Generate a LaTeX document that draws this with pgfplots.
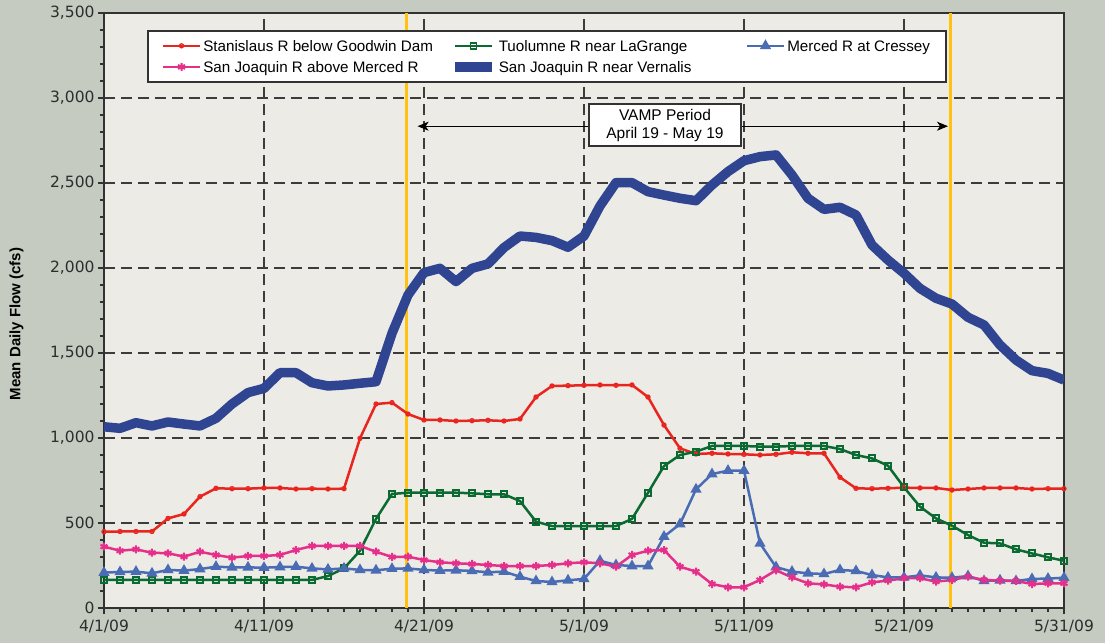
\documentclass[border=0pt]{standalone}
\usepackage{fontspec}
\setmainfont{Liberation Sans}
\newfontfamily\tickfont{DejaVu Sans}
\usepackage{pgfplots}
\usepackage{pgfplotstable}
\pgfplotsset{compat=1.18}
\usetikzlibrary{arrows.meta}

\definecolor{outerbg}{RGB}{197,203,192}
\definecolor{plotbg}{RGB}{237,235,229}
\definecolor{axisgray}{RGB}{50,50,50}
\definecolor{gridgray}{RGB}{60,60,60}
\definecolor{labelgray}{RGB}{45,45,45}
\definecolor{stancol}{RGB}{232,37,30}
\definecolor{tuolcol}{RGB}{10,106,50}
\definecolor{merccol}{RGB}{74,108,180}
\definecolor{sjmcol}{RGB}{230,46,139}
\definecolor{verncol}{RGB}{47,69,146}
\definecolor{vampgold}{RGB}{255,194,14}

% day index 0 = 4/1/09 ... 60 = 5/31/09
\pgfplotstableread{
day stan tuol merc sjm vern
0  449  165 208 361 1066
1  450  165 212 337 1057
2  450  165 214 345 1090
3  450  165 204 325 1071
4  527  165 224 322 1094
5  553  165 220 302 1082
6  655  165 229 331 1071
7  704  165 243 312 1116
8  702  165 239 296 1200
9  702  165 239 306 1267
10 706  165 237 306 1292
11 706  165 241 312 1384
12 700  165 243 341 1384
13 702  165 233 365 1325
14 700  188 227 365 1306
15 702  233 233 365 1312
16 998  337 224 365 1322
17 1200 524 222 331 1331
18 1208 671 231 300 1616
19 1141 678 233 302 1841
20 1106 678 224 282 1973
21 1106 678 220 269 1998
22 1100 678 222 263 1920
23 1102 675 218 259 1998
24 1104 669 210 253 2024
25 1100 669 214 247 2120
26 1112 629 184 247 2188
27 1241 508 159 247 2180
28 1306 482 153 253 2161
29 1308 482 163 263 2122
30 1310 482 171 269 2188
31 1312 482 278 263 2365
32 1310 482 253 243 2502
33 1312 524 247 312 2502
34 1241 678 247 337 2449
35 1076 835 420 341 2429
36 939  900 494 243 2410
37 906  920 698 214 2396
38 910  953 788 141 2488
39 906  953 808 122 2567
40 904  953 808 122 2631
41 900  949 380 165 2655
42 904  949 241 222 2665
43 916  953 214 180 2547
44 910  953 204 145 2410
45 910  953 200 139 2345
46 769  935 224 125 2357
47 704  900 218 122 2312
48 702  880 194 151 2135
49 704  837 180 161 2047
50 708  710 180 175 1969
51 706  596 192 175 1880
52 706  527 180 155 1822
53 694  484 178 165 1788
54 700  429 188 184 1710
55 706  384 159 165 1665
56 706  380 163 161 1547
57 706  345 159 159 1459
58 700  321 171 141 1396
59 702  298 173 145 1380
60 702  278 178 145 1341
}\flowdata

\begin{document}
\begin{tikzpicture}
\fill[outerbg] (-104bp,-35bp) rectangle (1001bp,608bp);
\begin{axis}[
  scale only axis, width=960bp, height=595bp,
  xmin=0, xmax=60, ymin=0, ymax=3500,
  axis background/.style={fill=plotbg},
  axis line style={line width=1.8bp, draw=axisgray},
  xtick={0,10,...,60},
  xticklabels={4/1/09,4/11/09,4/21/09,5/1/09,5/11/09,5/21/09,5/31/09},
  minor x tick num=9,
  ytick={0,500,...,3500},
  yticklabels={0,500,{1,000},{1,500},{2,000},{2,500},{3,000},{3,500}},
  minor y tick num=4,
  tick pos=left, tick align=outside,
  major tick length=6bp, minor tick length=4bp,
  tick style={line width=1.2bp, draw=axisgray},
  grid=major,
  major grid style={dash pattern=on 11bp off 6bp, line width=1.2bp, draw=gridgray},
  ticklabel style={font=\tickfont\fontsize{15.5bp}{18bp}\selectfont, text=labelgray},
  xticklabel style={yshift=-2bp},
  /pgf/number format/assume math mode=true,
  legend columns=3,
  legend cell align=left,
  legend style={at={(0.0448,0.9714)}, anchor=north west, draw=axisgray,
    line width=1.5bp, fill=white, inner xsep=14bp, inner ysep=6bp,
    font=\fontsize{15.2bp}{18bp}\selectfont, nodes={inner sep=2bp},
    column sep=0bp, row sep=3bp},
  legend image code/.code={\draw[mark repeat=2,mark phase=2,#1]
    plot coordinates {(0bp,0bp) (18.5bp,0bp) (37bp,0bp)};},
]
\draw[vampgold, line width=2.5bp] (axis cs:18.92,0) -- (axis cs:18.92,3500);
\draw[vampgold, line width=2.5bp] (axis cs:52.9,0) -- (axis cs:52.9,3500);

\addplot[stancol, line width=2.5bp, mark=o, mark size=2bp,
  mark options={line width=1.3bp, fill=plotbg}] table[x=day, y=stan] {\flowdata};
\addlegendentry{\makebox[245bp][l]{\strut Stanislaus R below Goodwin Dam}}
\addplot[tuolcol, line width=2.5bp, mark=square, mark size=3bp,
  mark options={line width=1.9bp}] table[x=day, y=tuol] {\flowdata};
\addlegendentry{\makebox[245bp][l]{\strut Tuolumne R near LaGrange}}
\addplot[merccol, line width=2.5bp, mark=triangle*, mark size=4bp]
  table[x=day, y=merc] {\flowdata};
\addlegendentry{\strut Merced R at Cressey}
\addplot[sjmcol, line width=2.5bp, mark=asterisk, mark size=4bp,
  mark options={line width=2bp}] table[x=day, y=sjm] {\flowdata};
\addlegendentry{\makebox[245bp][l]{\strut San Joaquin R above Merced R}}
\addplot[verncol, line width=9.5bp, line join=round] table[x=day, y=vern] {\flowdata};
\addlegendentry{\strut San Joaquin R near Vernalis}

\draw[{Stealth[length=11bp,width=9bp,inset=3bp]}-{Stealth[length=11bp,width=9bp,inset=3bp]},
  line width=1bp, black] (axis cs:19.6,2834) -- (axis cs:52.75,2834);
\node[draw=axisgray, line width=1.3bp, fill=white, align=center,
  font=\fontsize{15.5bp}{18bp}\selectfont, minimum width=152bp,
  minimum height=42bp, inner sep=2bp] at (axis cs:35.06,2841)
  {VAMP Period\\April 19 - May 19};
\end{axis}
\node[rotate=90, font=\bfseries\fontsize{15bp}{18bp}\selectfont, text=black]
  at (-87.5bp,284bp) {Mean Daily Flow (cfs)};
\pgfresetboundingbox
\path (-104bp,-35bp) rectangle (1001bp,608bp);
\end{tikzpicture}
\end{document}
